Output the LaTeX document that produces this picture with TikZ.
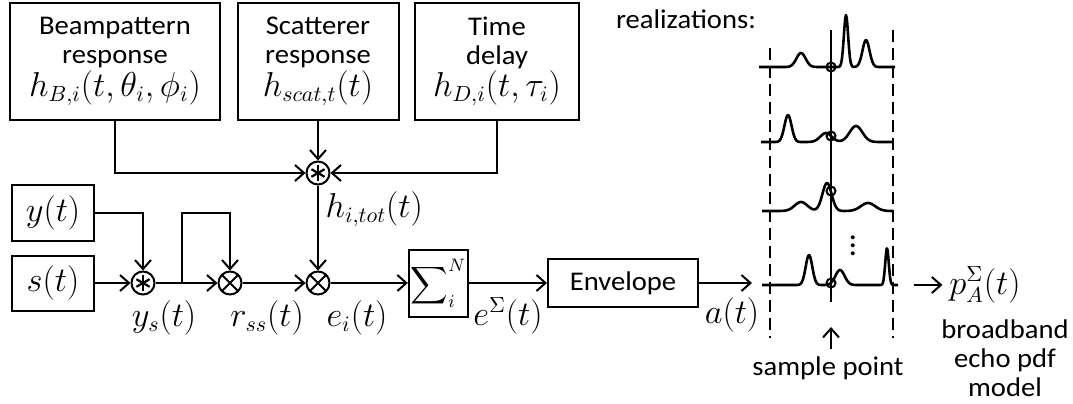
\documentclass[tikz,border=0pt]{standalone}
\usepackage{amsmath,amssymb}
\usepackage{fontspec}
\setmainfont[FakeStretch=1.06]{Carlito}
\usepackage{tikz}
\usetikzlibrary{arrows.meta,positioning,calc}
\newcommand{\mx}[1]{{\fontsize{16}{18}\selectfont$#1$}}

\begin{document}
\begin{tikzpicture}[
  x=0.5pt, y=-0.5pt,
  font=\fontsize{13.5}{14.5}\selectfont,
  box/.style={rectangle, draw, line width=1pt, align=center, inner sep=2pt},
  convnode/.style={circle, draw, line width=1pt, minimum size=11.5pt, inner sep=0pt,
    path picture={\foreach \a in {90,30,-30}
      \draw[line width=1.1pt] ($(path picture bounding box.center)+(\a:3.8pt)$)
        -- ($(path picture bounding box.center)+(\a+180:3.8pt)$);}},
  multnode/.style={circle, draw, line width=1pt, minimum size=11.5pt, inner sep=0pt,
    path picture={\draw[line width=1pt]
      (path picture bounding box.north west) -- (path picture bounding box.south east)
      (path picture bounding box.north east) -- (path picture bounding box.south west);}},
  arr/.style={-{Straight Barb[length=4.5pt,width=8pt]}, line width=1pt},
  lbl/.style={font=\fontsize{16}{18}\selectfont},
  wave/.style={line width=1.3pt, line join=round, samples=170},
  guide/.style={dashed, dash pattern=on 6pt off 3pt, line width=0.8pt},
  probe/.style={circle, draw, line width=1pt, minimum size=4.5pt, inner sep=0pt},
]
\useasboundingbox (0,0) rectangle (1073,403);

% Impulse response blocks
\node[box, minimum width=105pt, minimum height=58.5pt] (beam) at (115,61.5)
  {Beampattern\\response\\\mx{h_{B,i}(t,\theta_i,\phi_i)}};
\node[box, minimum width=80.5pt, minimum height=58.5pt] (scat) at (318,61.5)
  {Scatterer\\response\\\mx{h_{scat,t}(t)}};
\node[box, minimum width=82pt, minimum height=58.5pt] (delay) at (497,61.5)
  {Time\\delay\\\mx{h_{D,i}(t,\tau_i)}};
\node[convnode] (conv1) at (318,173) {};

\draw[arr] (beam.south) |- (conv1.west);
\draw[arr] (scat.south) -- (conv1.north);
\draw[arr] (delay.south) |- (conv1.east);

% Signal chain
\node[box, minimum width=41pt, minimum height=28pt] (ybox) at (53,213) {\mx{y(t)}};
\node[box, minimum width=41pt, minimum height=27.5pt] (sbox) at (53,283) {\mx{s(t)}};
\node[convnode] (conv2) at (143,283) {};
\node[multnode] (mult1) at (230,283) {};
\node[multnode] (mult2) at (318,283) {};
\node[box, minimum width=28.5pt, minimum height=33.5pt, inner sep=1pt] (sum) at (438.5,283)
  {\fontsize{13}{15}\selectfont$\displaystyle\sum\nolimits_i^N$};
\node[box, minimum width=75pt, minimum height=24pt] (env) at (623,283) {Envelope};
\coordinate (tap) at (182,283);
\coordinate (aout) at (752,283);

\draw[arr] (ybox.east) -| (conv2.north);
\draw[arr] (sbox) -- (conv2);
\draw[arr] (conv2) -- (mult1);
\draw[arr] (tap) -- (tap |- ybox.east) -| (mult1.north);
\draw[arr] (mult1) -- (mult2);
\draw[arr] (conv1) -- node[lbl, right, pos=0.28] (htot) {$h_{i,tot}(t)$} (mult2);
\draw[arr] (mult2) -- (sum);
\draw[arr] (sum) -- (env);
\draw[arr] (env) -- (aout);

% Signal labels
\node[lbl] (ys) at (164,318) {$y_s(t)$};
\node[lbl] (rss) at (267,318) {$r_{ss}(t)$};
\node[lbl] (ei) at (357,318) {$e_i(t)$};
\node[lbl] (esum) at (508,316) {$e^{\Sigma}(t)$};
\node[lbl] (aenv) at (732,315) {$a(t)$};

% Realizations
\node (real) at (686,19) {realizations:};
\draw[guide] (770,48) -- (770,338);
\draw[guide] (893,30) -- (893,338);
\draw[line width=0.6pt] (831,30) -- (831,302);

\draw[wave] plot[domain=759:895] (\x, {67 - 14*exp(-(\x-801)*(\x-801)/42)
  - 52*exp(-(\x-846)*(\x-846)/9) - 27*exp(-(\x-866)*(\x-866)/25)});
\draw[wave] plot[domain=761:892] (\x, {142 - 27*exp(-(\x-788)*(\x-788)/25)
  - 9*exp(-(\x-826)*(\x-826)/64) - 16*exp(-(\x-856)*(\x-856)/81)});
\draw[wave] plot[domain=762:893] (\x, {211 - 9*exp(-(\x-801)*(\x-801)/81)
  - 28*exp(-(\x-827)*(\x-827)/42) - 8*exp(-(\x-868)*(\x-868)/100)});
\draw[wave] plot[domain=762:898] (\x, {285 - 30*exp(-(\x-809)*(\x-809)/22)
  - 15*exp(-(\x-840)*(\x-840)/42) - 37*exp(-(\x-887)*(\x-887)/6)});

\node[probe] (s1) at (831,67) {};
\node[probe] (s2) at (831,136) {};
\node[probe] (s3) at (831,191) {};
\node[probe] (s4) at (831,283) {};
\node[lbl] (vd) at (853,240) {$\vdots$};

% Sample point and output
\node (sp) at (828,368) {sample point};
\coordinate (sptip) at (831,327);
\draw[arr] (sptip |- sp.north) -- (sptip);
\coordinate (pin) at (914,285);
\node[lbl] (pA) at (985,285) {$p_A^{\Sigma}(t)$};
\draw[arr] (pin) -- (pA);
\node[align=center] (model) at (1005,358) {broadband\\echo pdf\\model};

\end{tikzpicture}
\end{document}
